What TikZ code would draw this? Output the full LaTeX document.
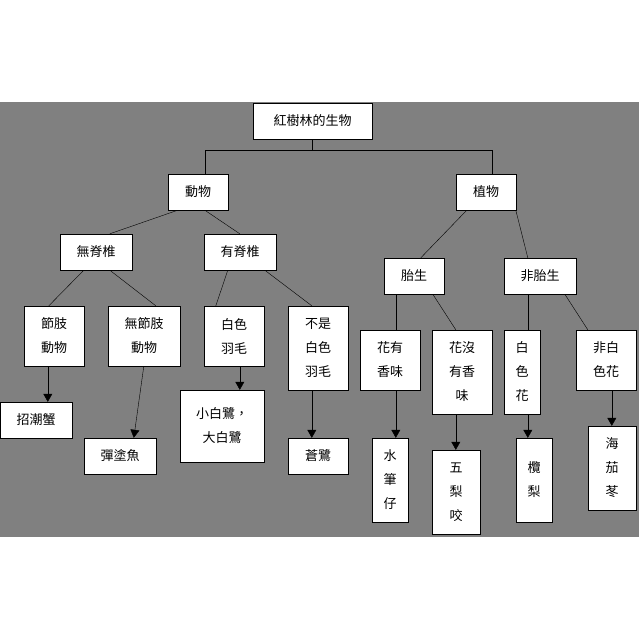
\documentclass[tikz,border=0pt]{standalone}
\usepackage{fontspec}
\setmainfont{Noto Sans CJK TC}
\usetikzlibrary{arrows.meta,calc}

\begin{document}
\begin{tikzpicture}[
  x=1pt, y=-1pt,
  box/.style={
    rectangle,
    draw=black,
    fill=white,
    inner sep=0pt,
    align=center,
    font=\fontsize{13}{24}\selectfont
  },
  link/.style={
    black
  },
  arrow/.style={
    -{Triangle[width=9pt,length=8pt]},
    black
  }
]

  % Background
  \useasboundingbox (0,0) rectangle (639,639);
  \fill[gray!100!white, fill={rgb,255:red,128;green,128;blue,128}] (0,102) rectangle (639,537);

  % Root
  \node[box, minimum width=119, minimum height=36] (root) at (312.5,121) {紅樹林的生物};

  % Second level
  \node[box, minimum width=60, minimum height=36] (animal) at (198,192) {動物};
  \node[box, minimum width=60, minimum height=36] (plant) at (486,192) {植物};

  % Third level
  \node[box, minimum width=72, minimum height=36] (invert) at (96,252) {無脊椎};
  \node[box, minimum width=72, minimum height=36] (vert) at (240,252) {有脊椎};
  \node[box, minimum width=60, minimum height=36] (vivi) at (414,276) {胎生};
  \node[box, minimum width=72, minimum height=36] (nonvivi) at (540,276) {非胎生};

  % Fourth level
  \node[box, minimum width=60, minimum height=60] (arthro) at (54,336) {節肢\\動物};
  \node[box, minimum width=72, minimum height=60] (nonarthro) at (144,336) {無節肢\\動物};
  \node[box, minimum width=60, minimum height=60] (white) at (234,336) {白色\\羽毛};
  \node[box, minimum width=60, minimum height=84] (nonwhite) at (318,348) {不是\\白色\\羽毛};
  \node[box, minimum width=60, minimum height=60] (scent) at (390,360) {花有\\香味};
  \node[box, minimum width=60, minimum height=84] (noscent) at (462,372) {花沒\\有香\\味};
  \node[box, minimum width=36, minimum height=84] (whiteflower) at (522,372) {白\\色\\花};
  \node[box, minimum width=60, minimum height=60] (otherflower) at (606,360) {非白\\色花};

  % Leaves
  \node[box, minimum width=72, minimum height=36] (crab) at (36,420) {招潮蟹};
  \node[box, minimum width=72, minimum height=36] (goby) at (120,456) {彈塗魚};
  \node[box, minimum width=84, minimum height=72] (egret) at (222,426) {小白鷺，\\大白鷺};
  \node[box, minimum width=60, minimum height=36] (heron) at (318,456) {蒼鷺};
  \node[box, minimum width=36, minimum height=84] (kandelia) at (390,480) {水\\筆\\仔};
  \node[box, minimum width=48, minimum height=84] (bruguiera) at (456,492) {五\\梨\\咬};
  \node[box, minimum width=36, minimum height=84] (lumnitzera) at (534,480) {欖\\梨};
  \node[box, minimum width=48, minimum height=84] (aegiceras) at (612,468) {海\\茄\\苳};

  % Root bracket
  \draw[link] (root.south) -- ++(0,11) coordinate (split);
  \draw[link] ($(animal.north west)+(37,0)$) |- (split) -| ($(plant.north west)+(36,0)$);

  % Animal branch
  \draw[link] ($(animal.south west)+(10,0)$) -- ($(invert.north west)+(50,0)$);
  \draw[link] ($(animal.south west)+(37,0)$) -- ($(vert.north west)+(36,0)$);
  \draw[link] ($(invert.south west)+(24,0)$) -- ($(arthro.north west)+(25,0)$);
  \draw[link] ($(invert.south west)+(50,0)$) -- ($(nonarthro.north west)+(48,0)$);
  \draw[link] ($(vert.south west)+(24,0)$) -- ($(white.north west)+(12,0)$);
  \draw[link] ($(vert.south west)+(61,0)$) -- ($(nonwhite.north west)+(24,0)$);

  % Plant branch
  \draw[link] ($(plant.south west)+(11,0)$) -- ($(vivi.north west)+(37,0)$);
  \draw[link] ($(plant.south west)+(60,0)$) -- ($(nonvivi.north west)+(24,0)$);
  \draw[link] ($(vivi.south west)+(12,0)$) -- ($(scent.north west)+(36,0)$);
  \draw[link] ($(vivi.south west)+(49,0)$) -- ($(noscent.north west)+(24,0)$);
  \draw[link] ($(nonvivi.south west)+(24,0)$) -- ($(whiteflower.north west)+(24,0)$);
  \draw[link] ($(nonvivi.south west)+(61,0)$) -- ($(otherflower.north west)+(12,0)$);

  % Arrows to leaves
  \draw[arrow] ($(arthro.south west)+(24,0)$) -- ($(crab.north west)+(48,0)$);
  \draw[arrow] ($(nonarthro.south west)+(36,0)$) -- ($(goby.north west)+(50,0)$);
  \draw[arrow] ($(white.south west)+(36,0)$) -- ($(egret.north west)+(60,0)$);
  \draw[arrow] ($(nonwhite.south west)+(24,0)$) -- ($(heron.north west)+(24,0)$);
  \draw[arrow] ($(scent.south west)+(36,0)$) -- ($(kandelia.north west)+(24,0)$);
  \draw[arrow] ($(noscent.south west)+(24,0)$) -- ($(bruguiera.north west)+(24,0)$);
  \draw[arrow] ($(whiteflower.south west)+(24,0)$) -- ($(lumnitzera.north west)+(12,0)$);
  \draw[arrow] ($(otherflower.south west)+(36,0)$) -- ($(aegiceras.north west)+(24,0)$);

\end{tikzpicture}
\end{document}
